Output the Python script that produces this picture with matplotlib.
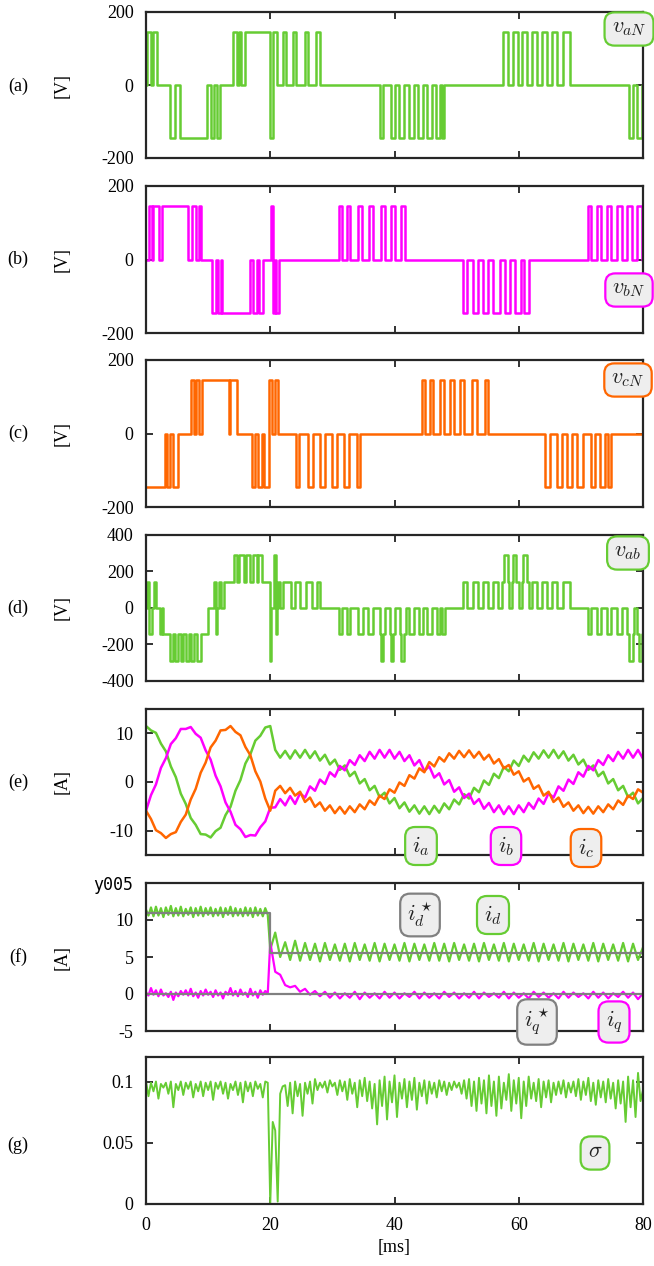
import numpy as np
import matplotlib
matplotlib.use('Agg')
import matplotlib.pyplot as plt

plt.rcParams['font.family'] = ['Liberation Serif', 'DejaVu Serif']
plt.rcParams['mathtext.fontset'] = 'cm'
plt.rcParams['axes.unicode_minus'] = False

GREEN = '#66cc33'
MAGENTA = '#ff00ff'
ORANGE = '#ff6600'
GRAY = '#808080'

# ---- phase voltages: switching instants [ms] and level [V] held after each ----
va_t = [0, 0.2, 0.75, 1.05, 1.8,
        3.85, 4.7, 5.4, 9.8, 10.4, 10.9, 11.5, 11.9,
        13.95, 14.6, 14.9, 15.3, 15.9, 19.9, 20.4,
        21.1, 22.0, 22.6, 23.7, 24.2, 25.6, 26.1, 27.4, 28.0,
        37.7, 38.2, 39.4, 40.0, 40.8, 41.6, 42.3, 43.2, 43.8, 44.6, 45.2, 46.0, 46.6, 47.4, 47.6, 48.0,
        57.5, 58.2, 59.0, 59.8, 60.6, 61.4, 62.2, 63.0, 63.8, 64.5, 65.4, 66.1, 67.2, 68.3,
        77.8, 78.4, 79.1, 79.8]
va_v = ([0, 145, 0, 145, 0]
        + [-145, 0, -145, 0, -145, 0, -145, 0]
        + [145, 0, 145, 0, 145, -145, 145]
        + [0, 145, 0, 145, 0, 145, 0, 145, 0]
        + [-145, 0] * 8
        + [145, 0] * 7
        + [-145, 0] * 2)

vb_t = [0, 0.55, 0.9, 1.1, 2.05, 2.6, 6.8, 7.35, 8.0, 8.55, 8.85,
        10.6, 11.3, 11.6, 12.0, 12.3, 16.7, 17.3, 17.9, 18.2, 18.9,
        20.05, 20.5, 20.7, 21.0, 21.45,
        31.1, 31.5, 32.4, 32.9, 34.2, 34.7, 35.9, 36.5, 37.8, 38.5, 39.5, 40.1, 41.1, 41.7,
        51.0, 51.7, 52.6, 53.4, 54.3, 55.0, 55.9, 57.0, 57.8, 58.6, 59.4, 60.3, 60.8, 61.6,
        71.2, 71.7, 72.6, 73.2, 74.2, 74.8, 75.8, 76.6, 77.5, 78.2, 79.0, 79.8]
vb_v = ([0] + [145, 0] * 5
        + [-145, 0] * 5
        + [145, -145, 0, -145, 0]
        + [145, 0] * 7
        + [-145, 0] * 7
        + [145, 0] * 6)

vc_t = [0, 3.05, 3.45, 3.85, 4.4, 5.2,
        7.2, 7.7, 8.0, 8.6, 8.95, 13.3, 13.6, 14.7,
        17.0, 17.6, 18.1, 18.6, 19.0, 19.85, 20.3, 20.7, 21.2,
        24.1, 24.7, 26.1, 26.9, 28.0, 28.8, 29.9, 30.7, 31.8, 32.6, 33.9, 34.5,
        44.4, 44.9, 45.7, 46.2, 47.3, 47.9, 48.9, 49.5, 50.5, 51.2, 52.4, 53.3, 54.6, 55.0,
        64.2, 65.0, 66.1, 66.9, 67.7, 68.5, 69.3, 70.4, 71.7, 72.2, 73.1, 73.9, 74.4, 74.9]
vc_v = ([-145, 0, -145, 0, -145, 0]
        + [145, 0] * 4
        + [-145, 0, -145, 0, -145, 145, 0, 145, 0]
        + [-145, 0] * 6
        + [145, 0] * 7
        + [-145, 0] * 7)

vab_t = [0, 0.2, 0.55, 0.9, 1.35, 1.65, 2.3, 2.6, 2.75,
         3.9, 4.4, 4.7, 5.2, 5.6, 6.0, 6.5, 6.9, 7.3, 7.8, 8.2, 8.8,
         10.0, 10.9, 11.3, 11.5, 11.8, 12.1, 12.5,
         14.1, 14.6, 15.0, 15.7, 16.1, 16.7, 17.2, 17.8, 18.1, 18.6,
         19.9, 20.2, 20.6, 20.85, 21.1, 21.3, 21.6, 22.1, 23.4, 24.0, 24.8, 25.7, 26.7, 27.5, 28.0,
         31.0, 31.5, 32.3, 32.9, 34.2, 34.9, 35.8, 36.6,
         37.7, 37.8, 38.2, 38.5, 39.2, 39.4, 39.8, 40.1, 40.9, 41.1, 41.6, 41.8,
         42.3, 43.2, 43.9, 44.6, 45.2, 46.0, 46.8, 47.3, 47.6, 48.2,
         51.0, 51.7, 52.6, 53.4, 54.2, 55.0, 55.9, 56.7,
         57.3, 57.6, 58.2, 58.5, 58.9, 59.1, 59.6, 60.0, 60.5, 60.7, 61.3, 61.6,
         62.2, 63.0, 63.8, 64.5, 65.4, 66.1, 67.2, 68.3,
         71.2, 71.7, 72.6, 73.2, 74.2, 74.8, 75.8, 76.6,
         77.5, 77.8, 78.4, 78.6, 79.1, 79.3, 79.8]
vab_v = ([0, 145, -145, 0, 145, 0, -145, 0, -145]
         + [-290, -145] * 6
         + [0, 145, -145, 0, 145, 0, 145]
         + [290, 145] * 5
         + [-290, 0, 290, -145, 0, 145, 0, 145, 0, 145, 0, 145, 0, 145, 0]
         + [-145, 0] * 4
         + [-145, -290, -145, 0] * 3
         + [-145, 0] * 5
         + [145, 0] * 4
         + [145, 290, 145, 0] * 3
         + [145, 0] * 4
         + [-145, 0] * 4
         + [-145, -290, -145, 0, -145, -290, -145])

# ---- phase currents [A], sampled every 0.8 ms ----
t_i = np.arange(101) * 0.8
ia = [11.5, 10.6, 10.1, 7.9, 6.3, 3.2, 1.0, -2.4, -4.5, -7.4, -8.8, -10.7, -10.8,
      -11.4, -10.1, -9.4, -6.8, -5.1, -1.8, 0.4, 3.8, 5.7, 8.5, 9.5, 11.2, 11.5,
      6.6, 5.0, 6.4, 4.8, 6.5, 5.0, 6.6, 4.9, 6.3, 4.4,
      5.6, 3.6, 4.6, 2.5, 3.4, 1.2, 2.1, -0.3, 0.6, -1.7,
      -0.8, -3.1, -2.2, -4.4, -3.3, -5.4, -4.2, -6.1, -4.8, -6.5,
      -5.0, -6.6, -4.9, -6.3, -4.4, -5.6, -3.6, -4.6, -2.5, -3.4,
      -1.2, -2.1, 0.3, -0.6, 1.7, 0.8, 3.1, 2.2, 4.4, 3.3,
      5.4, 4.2, 6.1, 4.8, 6.5, 5.0, 6.6, 4.9, 6.3, 4.4,
      5.6, 3.6, 4.6, 2.5, 3.4, 1.2, 2.1, -0.3, 0.6, -1.7,
      -0.8, -3.1, -2.2, -4.4, -3.3]
ib = [-5.9, -2.7, -0.5, 2.9, 4.9, 7.8, 9.0, 10.9, 10.9, 11.3, 9.9, 9.1, 6.5,
      4.6, 1.3, -0.9, -4.2, -6.1, -8.8, -9.7, -11.3, -10.9, -11.0, -9.3, -8.1, -5.3,
      -5.2, -3.5, -4.8, -2.9, -4.5, -2.3, -3.2, -0.9, -1.8, 0.5,
      -0.4, 2.0, 1.1, 3.3, 2.4, 4.5, 3.5, 5.5, 4.3, 6.2,
      4.8, 6.6, 5.0, 6.6, 4.8, 6.2, 4.3, 5.5, 3.4, 4.5,
      2.3, 3.2, 0.9, 1.8, -0.5, 0.4, -2.0, -1.1, -3.3, -2.4,
      -4.5, -3.5, -5.5, -4.3, -6.2, -4.8, -6.6, -5.0, -6.6, -4.8,
      -6.2, -4.3, -5.5, -3.4, -4.5, -2.3, -3.2, -0.9, -1.8, 0.5,
      -0.4, 2.0, 1.1, 3.3, 2.4, 4.5, 3.5, 5.5, 4.3, 6.2,
      4.8, 6.6, 5.0, 6.6, 4.8]
ic = [-5.9, -7.6, -9.9, -10.5, -11.5, -10.7, -10.3, -8.2, -6.7, -3.6, -1.4, 1.9, 4.0,
      7.1, 8.5, 10.6, 10.7, 11.5, 10.3, 9.6, 7.2, 5.5, 2.2, 0.1, -3.4, -5.9,
      -1.8, -0.8, -2.3, -1.2, -2.8, -2.0, -4.1, -3.2, -5.1, -4.2,
      -5.9, -4.8, -6.4, -5.1, -6.5, -5.0, -6.2, -4.6, -5.6, -3.8,
      -4.7, -2.8, -3.5, -1.5, -2.2, -0.1, -0.8, 1.4, 0.7, 2.8,
      2.0, 4.1, 3.2, 5.1, 4.2, 5.9, 4.8, 6.4, 5.1, 6.5,
      5.0, 6.2, 4.6, 5.6, 3.8, 4.7, 2.8, 3.5, 1.5, 2.2,
      0.1, 0.8, -1.4, -0.7, -2.8, -2.0, -4.1, -3.2, -5.1, -4.2,
      -5.9, -4.8, -6.4, -5.1, -6.5, -5.0, -6.2, -4.6, -5.6, -3.8,
      -4.7, -2.8, -3.5, -1.5, -2.2]

# ---- dq currents [A]: 0.4 ms samples before the step, 0.8 ms after ----
t_dq = np.concatenate([np.arange(50) * 0.4, 20 + np.arange(76) * 0.8])
id_meas = [11.4, 10.6, 11.7, 10.5, 11.8, 10.6, 11.6, 10.4, 11.7, 10.7,
           11.9, 10.5, 11.6, 10.6, 11.8, 10.5, 11.5, 10.7, 11.7, 10.4,
           11.6, 10.6, 11.8, 10.5, 11.6, 10.7, 11.7, 10.5, 11.5, 10.6,
           11.7, 10.4, 11.6, 10.7, 11.8, 10.5, 11.6, 10.6, 11.5, 10.5,
           11.7, 10.6, 11.6, 10.4, 11.7, 10.6, 11.5, 10.5, 11.6, 10.7,
           6.0, 8.3, 5.0, 7.0, 4.6, 7.2, 4.5, 6.9, 4.6, 6.8,
           4.4, 6.9, 4.6, 6.7, 4.5, 6.8, 4.4, 6.9, 4.6, 6.7,
           4.5, 6.9, 4.4, 6.8, 4.6, 6.7, 4.5, 6.9, 4.4, 6.8,
           4.6, 6.7, 4.5, 6.9, 4.5, 6.8, 4.4, 6.9, 4.6, 6.7,
           4.5, 6.8, 4.4, 6.9, 4.6, 6.7, 4.5, 6.9, 4.4, 6.8,
           4.6, 6.7, 4.5, 6.9, 4.4, 6.8, 4.6, 6.7, 4.5, 6.9,
           4.4, 6.8, 4.6, 6.7, 4.5, 6.9, 4.4, 6.8, 4.6, 6.7,
           4.5, 6.9, 4.4, 6.8, 4.6, 6.3]
iq_meas = [0.2, -0.2, 0.8, -0.1, 0.5, -0.3, 0.6, -0.2, 0.1, -0.4,
           0.3, -0.8, 0.2, -0.3, 0.4, -0.1, 0.5, -0.2, 0.7, -0.3,
           0.2, -0.5, 0.4, -0.2, 0.6, -0.1, 0.3, -0.4, 0.5, -0.2,
           0.2, -0.6, 0.3, -0.1, 0.8, -0.2, 0.4, -0.3, 0.6, -0.1,
           0.2, -0.4, 0.7, -0.2, 0.3, -0.5, 0.5, -0.1, 0.4, 0.1,
           7.0, 3.0, 2.6, 1.2, 0.9, 1.1, 0.3, 0.7, -0.1, 0.4,
           -0.3, 0.3, -0.5, 0.2, -0.6, 0.1, -0.5, 0.3, -0.7, 0.2,
           -0.5, 0.1, -0.6, 0.3, -0.5, 0.2, -0.6, 0.1, -0.4, 0.3,
           -0.6, 0.2, -0.5, 0.1, -0.6, 0.3, -0.4, 0.2, -0.6, 0.1,
           -0.5, 0.3, -0.6, 0.2, -0.4, 0.1, -0.5, 0.3, -0.6, 0.2,
           -0.5, 0.1, -0.6, 0.3, -0.4, 0.2, -0.5, 0.1, -0.6, 0.3,
           -0.5, 0.2, -0.4, 0.1, -0.6, 0.3, -0.5, 0.2, -0.6, 0.1,
           -0.4, 0.3, -0.5, 0.2, -0.7, 0.1]
id_ref_t = [0, 20, 80]
id_ref_v = [11.0, 5.5, 5.5]
iq_ref_t = [0, 80]
iq_ref_v = [0.0, 0.0]

# ---- sigma, sampled every 0.4 ms ----
t_s = np.arange(201) * 0.4
sigma = [0.100, 0.088, 0.099, 0.092, 0.100, 0.086, 0.098, 0.095, 0.099, 0.090,
         0.100, 0.079, 0.098, 0.093, 0.100, 0.089, 0.099, 0.094, 0.100, 0.087,
         0.098, 0.092, 0.100, 0.088, 0.099, 0.093, 0.100, 0.085, 0.099, 0.094,
         0.100, 0.090, 0.099, 0.086, 0.098, 0.093, 0.100, 0.089, 0.099, 0.083,
         0.100, 0.092, 0.099, 0.088, 0.100, 0.094, 0.098, 0.087, 0.100, 0.099,
         0.000, 0.067, 0.060, 0.002, 0.090, 0.096,
         0.097, 0.080, 0.099, 0.074, 0.100, 0.088, 0.098, 0.072, 0.099, 0.090,
         0.100, 0.082, 0.102, 0.093, 0.099, 0.095, 0.100, 0.091, 0.101, 0.096,
         0.099, 0.089, 0.101, 0.092, 0.100, 0.085, 0.102, 0.090, 0.099, 0.079,
         0.101, 0.088, 0.103, 0.084, 0.100, 0.078, 0.098, 0.065, 0.101, 0.080,
         0.104, 0.069, 0.100, 0.083, 0.105, 0.071, 0.099, 0.086, 0.102, 0.079,
         0.100, 0.085, 0.103, 0.077, 0.099, 0.088, 0.101, 0.082, 0.100, 0.090,
         0.099, 0.087, 0.101, 0.092, 0.100, 0.089, 0.099, 0.093, 0.100, 0.095,
         0.099, 0.090, 0.101, 0.086, 0.102, 0.080, 0.100, 0.076, 0.103, 0.082,
         0.101, 0.074, 0.105, 0.080, 0.100, 0.072, 0.104, 0.078, 0.099, 0.085,
         0.106, 0.076, 0.101, 0.082, 0.103, 0.070, 0.100, 0.080, 0.104, 0.086,
         0.099, 0.084, 0.102, 0.079, 0.100, 0.087, 0.101, 0.083, 0.099, 0.089,
         0.100, 0.090, 0.101, 0.087, 0.099, 0.091, 0.100, 0.088, 0.102, 0.085,
         0.100, 0.089, 0.103, 0.084, 0.099, 0.081, 0.101, 0.087, 0.100, 0.083,
         0.102, 0.086, 0.099, 0.078, 0.101, 0.082, 0.100, 0.067, 0.104, 0.079,
         0.101, 0.071, 0.107, 0.084, 0.093]

W, H = 654, 1266
fig = plt.figure(figsize=(W / 100, H / 100), dpi=100)

# axes extents in pixels (top, bottom)
boxes = [(12, 158), (186, 333), (360, 507), (535, 681), (709, 855), (883, 1031), (1057, 1204)]
axes = []
for top, bot in boxes:
    ax = fig.add_axes([146 / W, 1 - bot / H, 497 / W, (bot - top) / H])
    ax.set_xlim(0, 80)
    ax.set_xticks([0, 20, 40, 60, 80])
    ax.tick_params(direction='in', top=True, right=True, length=5, width=1.3,
                   labelsize=13, colors='#222222', labelcolor='black', pad=9)
    for s in ax.spines.values():
        s.set_linewidth(1.6)
        s.set_color('#262626')
    axes.append(ax)
for ax in axes[:-1]:
    ax.tick_params(labelbottom=False)


def steps(ax, t, v, color):
    ax.step(list(t) + [80], list(v) + [v[-1]], where='post', color=color, lw=1.8)


def tag(x, y, s, color):
    fig.text(x / W, 1 - y / H, s, color='#222222', fontsize=16, ha='center', va='center',
             bbox=dict(boxstyle='round,pad=0.32,rounding_size=0.45', fc='#eeeeee',
                       ec=color, lw=1.6))


volt = [(va_t, va_v, GREEN, r'$v_{aN}$', 629, 29),
        (vb_t, vb_v, MAGENTA, r'$v_{bN}$', 629, 290),
        (vc_t, vc_v, ORANGE, r'$v_{cN}$', 628, 380)]
for ax, (t, v, c, lab, lx, ly) in zip(axes[:3], volt):
    steps(ax, t, v, c)
    ax.set_ylim(-200, 200)
    ax.set_yticks([-200, 0, 200])
    tag(lx, ly, lab, c)

ax = axes[3]
steps(ax, vab_t, vab_v, GREEN)
ax.set_ylim(-400, 400)
ax.set_yticks([-400, -200, 0, 200, 400])
tag(628, 553, r'$v_{ab}$', GREEN)

ax = axes[4]
ax.plot(t_i, ia, color=GREEN, lw=1.8)
ax.plot(t_i, ib, color=MAGENTA, lw=1.8)
ax.plot(t_i, ic, color=ORANGE, lw=1.8)
ax.set_ylim(-15, 15)
ax.set_yticks([-10, 0, 10])
tag(421, 846, r'$i_a$', GREEN)
tag(506, 846, r'$i_b$', MAGENTA)
tag(586, 848, r'$i_c$', ORANGE)

ax = axes[5]
ax.plot(t_dq, id_meas, color=GREEN, lw=1.6)
ax.plot(t_dq, iq_meas, color=MAGENTA, lw=1.6)
ax.step(id_ref_t, id_ref_v, where='post', color=GRAY, lw=1.6)
ax.plot(iq_ref_t, iq_ref_v, color=GRAY, lw=1.6)
ax.set_ylim(-5, 15)
ax.set_yticks([-5, 0, 5, 10, 15])
ax.set_yticklabels(['-5', '0', '5', '10', 'y005'])
ax.get_yticklabels()[-1].set_fontfamily('DejaVu Sans Mono')
ax.get_yticklabels()[-1].set_fontsize(12)
tag(420, 915, r'$i_d^\star$', GRAY)
tag(493, 915, r'$i_d$', GREEN)
tag(537, 1022, r'$i_q^\star$', GRAY)
tag(614, 1022, r'$i_q$', MAGENTA)

ax = axes[6]
ax.plot(t_s, sigma, color=GREEN, lw=1.4)
ax.set_ylim(0, 0.12)
ax.set_yticks([0, 0.05, 0.1])
ax.set_yticklabels(['0', '0.05', '0.1'])
ax.set_xticklabels(['0', '20', '40', '60', '80'])
ax.set_xlabel('[ms]', fontsize=13, labelpad=4)
tag(595, 1153, r'$\sigma$', GREEN)

panel_y = [86, 259, 433, 608, 782, 957, 1145]
units = ['[V]', '[V]', '[V]', '[V]', '[A]', '[A]', None]
for lab, y, u in zip('abcdefg', panel_y, units):
    fig.text(18 / W, 1 - y / H, '(%s)' % lab, fontsize=13, ha='center', va='center')
    if u:
        fig.text(62 / W, 1 - y / H, u, fontsize=13, ha='center', va='center', rotation=90)

fig.savefig('out.png', dpi=100)
